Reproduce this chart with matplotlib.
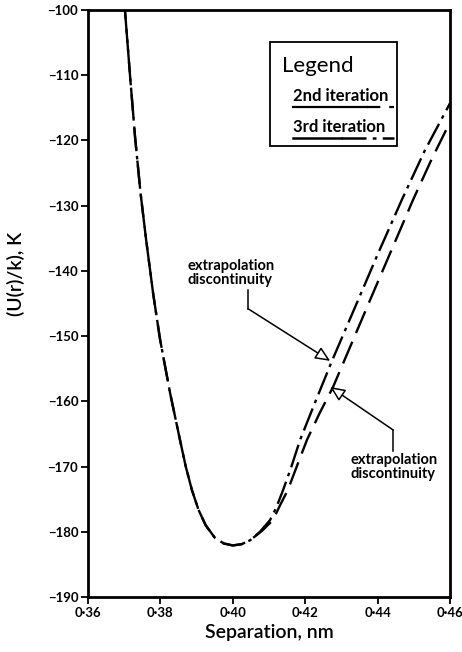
import matplotlib
matplotlib.use("Agg")
import matplotlib.pyplot as plt
from matplotlib.ticker import FuncFormatter, FixedLocator
from matplotlib.patches import Rectangle
from matplotlib.lines import Line2D

# ---- data ----
sep_3rd = [0.3702, 0.3716, 0.3730, 0.3745, 0.3760, 0.3780, 0.3799, 0.3827, 0.3854,
           0.3870, 0.3887, 0.3905, 0.3925, 0.3950, 0.3975, 0.4000, 0.4025, 0.4048,
           0.4075, 0.4103, 0.4120, 0.4139, 0.4162, 0.4186, 0.4230, 0.4274, 0.4346,
           0.4400, 0.4467, 0.4530, 0.4600]
pot_3rd = [-100.0, -110.0, -119.5, -128.0, -135.0, -143.5, -150.5, -158.8, -165.9,
           -170.0, -173.6, -176.6, -179.0, -180.9, -181.8, -182.1, -181.9, -181.3,
           -180.0, -178.2, -176.3, -173.6, -170.0, -165.9, -159.8, -153.8, -144.5,
           -137.5, -129.1, -121.6, -114.3]

sep_2nd = [0.3702, 0.3716, 0.3730, 0.3745, 0.3760, 0.3780, 0.3799, 0.3827, 0.3854,
           0.3870, 0.3887, 0.3905, 0.3925, 0.3950, 0.3975, 0.4000, 0.4025, 0.4050,
           0.4080, 0.4111, 0.4130, 0.4152, 0.4178, 0.4205, 0.4240, 0.4277, 0.4379,
           0.4440, 0.4498, 0.4550, 0.4600]
pot_2nd = [-100.0, -110.0, -119.5, -128.0, -135.0, -143.5, -150.5, -158.8, -165.9,
           -170.0, -173.6, -176.6, -179.0, -180.9, -181.8, -182.1, -181.9, -181.2,
           -179.9, -178.2, -176.0, -173.6, -169.8, -165.9, -161.8, -157.8, -144.5,
           -136.6, -129.1, -122.8, -117.2]

x_ticks = [0.36, 0.38, 0.40, 0.42, 0.44, 0.46]
y_ticks = [-100, -110, -120, -130, -140, -150, -160, -170, -180, -190]
series_labels = ["2nd iteration", "3rd iteration"]
annot_text = "extrapolation\ndiscontinuity"

FONT = "Lato"

fig = plt.figure(figsize=(4.62, 6.52), dpi=100)
ax = fig.add_axes([0.1905, 0.0844, 0.7835, 0.9003])

ls_2nd = (6, (10, 4))
ls_3rd = (0, (10, 2.5, 1.5, 2.5))

ax.plot(sep_2nd, pot_2nd, color="black", lw=1.7, linestyle=ls_2nd)
ax.plot(sep_3rd, pot_3rd, color="black", lw=1.7, linestyle=ls_3rd)

ax.set_xlim(0.36, 0.46)
ax.set_ylim(-190, -100)
ax.xaxis.set_major_locator(FixedLocator(x_ticks))
ax.yaxis.set_major_locator(FixedLocator(y_ticks))
ax.xaxis.set_major_formatter(FuncFormatter(lambda v, p: f"{v:.2f}".replace(".", "\u00b7")))
ax.yaxis.set_major_formatter(FuncFormatter(lambda v, p: f"\u2212{abs(v):.0f}"))

for s in ax.spines.values():
    s.set_linewidth(2.0)
ax.tick_params(direction="out", length=5, width=1.3, labelsize=9.5, pad=2)
for lab in ax.get_xticklabels() + ax.get_yticklabels():
    lab.set_fontfamily(FONT)
    lab.set_fontweight("bold")

ax.set_xlabel("Separation, nm", fontsize=14, fontfamily=FONT, fontweight="semibold", labelpad=4)
ax.set_ylabel("(U(r)/k), K", fontsize=14, fontfamily=FONT, fontweight="semibold", labelpad=8)
ax.yaxis.set_label_coords(-0.175, 0.55)

# ---- legend box (custom) ----
ax.add_patch(Rectangle((0.503, 0.768), 0.35, 0.177, transform=ax.transAxes,
                       fill=False, ec="black", lw=1.3))
ax.text(0.535, 0.905, "Legend", transform=ax.transAxes, fontsize=16,
        fontfamily=FONT, va="center", ha="left")
ax.text(0.566, 0.853, series_labels[0], transform=ax.transAxes, fontsize=12,
        fontfamily=FONT, fontweight="bold", va="center", ha="left")
ax.text(0.566, 0.801, series_labels[1], transform=ax.transAxes, fontsize=12,
        fontfamily=FONT, fontweight="bold", va="center", ha="left")
ax.add_line(Line2D([0.566, 0.77], [0.834, 0.834], transform=ax.transAxes, color="black", lw=1.6))
ax.add_line(Line2D([0.77, 0.845], [0.834, 0.834], transform=ax.transAxes, color="black",
                   lw=1.6, linestyle=(0, (6, 4))))
ax.add_line(Line2D([0.566, 0.70], [0.782, 0.782], transform=ax.transAxes, color="black", lw=1.8))
ax.add_line(Line2D([0.70, 0.845], [0.782, 0.782], transform=ax.transAxes, color="black",
                   lw=1.8, linestyle=ls_3rd))

# ---- annotations ----
arrow_kw = dict(arrowstyle="-|>,head_length=0.9,head_width=0.4", fc="white",
                ec="black", lw=1.1, shrinkA=0, shrinkB=0)
# upper
ax.text(0.3876, -142.4, annot_text, fontsize=10.5, fontfamily=FONT, fontweight="bold",
        ha="left", va="bottom", linespacing=1.0)
ax.plot([0.4042, 0.4042], [-142.9, -145.8], color="black", lw=1.1)
ax.annotate("", xy=(0.4269, -153.8), xytext=(0.4042, -145.8), arrowprops=arrow_kw)
# lower
ax.text(0.4325, -168.0, annot_text, fontsize=10.5, fontfamily=FONT, fontweight="bold",
        ha="left", va="top", linespacing=1.0)
ax.plot([0.4443, 0.4443], [-167.6, -164.4], color="black", lw=1.1)
ax.annotate("", xy=(0.4269, -157.8), xytext=(0.4443, -164.4), arrowprops=arrow_kw)

fig.savefig("out.png", dpi=100)
